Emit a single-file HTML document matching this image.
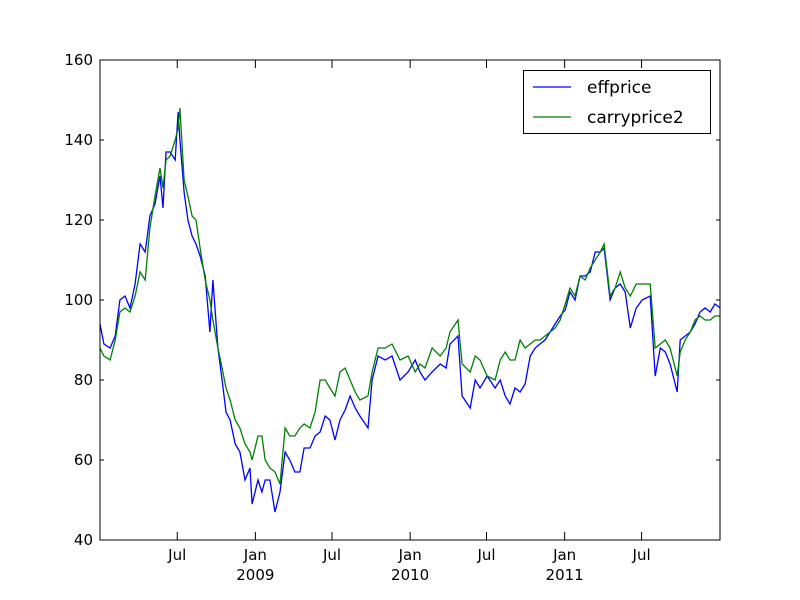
<!DOCTYPE html>
<html><head><meta charset="utf-8"><style>
body{margin:0;background:#fff;}
svg{display:block;font-family:"DejaVu Sans","Liberation Sans",sans-serif;}
</style></head><body>
<svg id="chart" width="800" height="600" xmlns="http://www.w3.org/2000/svg"></svg>
<script>
const weeks=[0,1.3,3.4,5.1,6.7,8.4,10.1,11.8,13.5,15.2,16.8,18.5,20.2,21.2,22.2,23.6,25.3,26.3,26.9,28.3,29.6,31,32.3,33.7,35.4,37,38,39.7,41.1,42.4,43.8,45.5,47.1,48.8,50.5,51.2,53.2,54.5,55.6,57.2,58.9,60.6,62.3,63.9,65.6,67.3,68.7,70.7,72.4,74.1,75.8,77.4,79.1,80.8,82.5,84.2,85.9,87.5,90.2,91.6,93.6,96,98.3,101,103.7,106.1,107.7,109.4,111.8,114.5,116.5,117.8,120.5,121.9,124.6,126.3,127.9,130.3,133,134.7,136.4,138,139.7,141.4,143.1,144.8,146.5,148.1,149.8,151.5,153.2,154.9,156.6,158.2,159.9,161.6,163.3,165,166.7,168.4,169.7,171.7,173.4,175.1,176.8,178.5,180.5,182.5,185.2,186.9,188.6,190.3,191.9,194.3,195.3,197,198.7,200.3,202,203.7,205.4,207,208.8];
const effprice=[94,89,88,91,100,101,98,104,114,112,121,124,131,123,137,137,135,147,140,127,120,116,114,111,106,92,105,88,80,72,70,64,62,55,58,49,55,52,55,55,47,52,62,60,57,57,63,63,66,67,71,70,65,70,72.5,76,73,71,68,80,86,85,86,80,82,85,82,80,82,84,83,89,91,76,73,80,78,81,78,80,76,74,78,77,79,86,88,89,90,92,94,96,97.5,102,100,106,106,107,112,112,113,100,103,104,102,93,98,100,101,81,88,87,84,77,90,91,92,94,97,98,97,99,98];
const carryprice2=[88,86,85,90,97,98,97,101,107,105,118,126,133,128,135,136,140,143,148,130,126,121,120,113,105,100,95,88,83,78,75,70,68,64,62,60,66,66,60,58,57,54,68,66,66,68,69,68,72,80,80,78,76,82,83,80,77,75,76,82,88,88,89,85,86,82,84,83,88,86,88,92,95,84,82,86,85,81,80,85,87,85,85,90,88,89,90,90,91,92,93,95,99,103,101,106,105,108,110,112,114,101,103,107,103,101,104,104,104,88,89,90,88,81,87,90,92,95,96,95,95,96,96];
const yTicks=[40,60,80,100,120,140,160];
const xTickWeeks=[26,52.3,78.1,104.4,130.1,156.4,182.3];
const xTickLabels=["Jul","Jan","Jul","Jan","Jul","Jan","Jul"];
const xYearLabels=["","2009","","2010","","2011",""];

const L=100,R=720,T=60,B=540,W0=0,W1=208.7,Y0=40,Y1=160;
const sx=w=>L+(w-W0)/(W1-W0)*(R-L);
const sy=v=>B-(v-Y0)/(Y1-Y0)*(B-T);
const NS="http://www.w3.org/2000/svg";
const svg=document.getElementById('chart');
function mk(tag,attrs,parent){const e=document.createElementNS(NS,tag);for(const k in attrs)e.setAttribute(k,attrs[k]);(parent||svg).appendChild(e);return e;}

function series(vals,color,name){
  const d=vals.map((v,i)=>(i?'L':'M')+sx(weeks[i]).toFixed(1)+','+sy(v).toFixed(1)).join('');
  const p=mk('path',{d:d,fill:'none',stroke:color,'stroke-width':1.3});
  
  
}
series(effprice,'#0000ff','effprice-line');
series(carryprice2,'#008000','carryprice2-line');

const frame=mk('rect',{x:L,y:T,width:R-L,height:B-T,fill:'none',stroke:'#000','stroke-width':1});



yTicks.forEach(v=>{
  const y=sy(v);
  mk('line',{x1:L,x2:L+4,y1:y,y2:y,stroke:'#000'});
  mk('line',{x1:R,x2:R-4,y1:y,y2:y,stroke:'#000'});
  const t=mk('text',{x:L-7,y:y+5,'text-anchor':'end','font-size':15});
  t.textContent=v;
  
  
});
xTickWeeks.forEach((w,i)=>{
  const x=sx(w);
  mk('line',{x1:x,x2:x,y1:B,y2:B-8,stroke:'#000'});
  mk('line',{x1:x,x2:x,y1:T,y2:T+8,stroke:'#000'});
  const t=mk('text',{x:x,y:B+20,'text-anchor':'middle','font-size':15});
  t.textContent=xTickLabels[i];
  
  
  if(xYearLabels[i]){
    const t2=mk('text',{x:x,y:B+40,'text-anchor':'middle','font-size':15});
    t2.textContent=xYearLabels[i];
    
    
  }
});

const lg=mk('g',{});


mk('rect',{x:523.5,y:70.5,width:187,height:63,fill:'#fff',stroke:'#000'},lg);
[['effprice','#0000ff',87],['carryprice2','#008000',117]].forEach(([n,c,y])=>{
  mk('line',{x1:533,x2:571,y1:y,y2:y,stroke:c,'stroke-width':1.3},lg);
  const t=mk('text',{x:587,y:y+6,'font-size':17},lg);
  t.textContent=n;
  
  
});
</script>
</body></html>
